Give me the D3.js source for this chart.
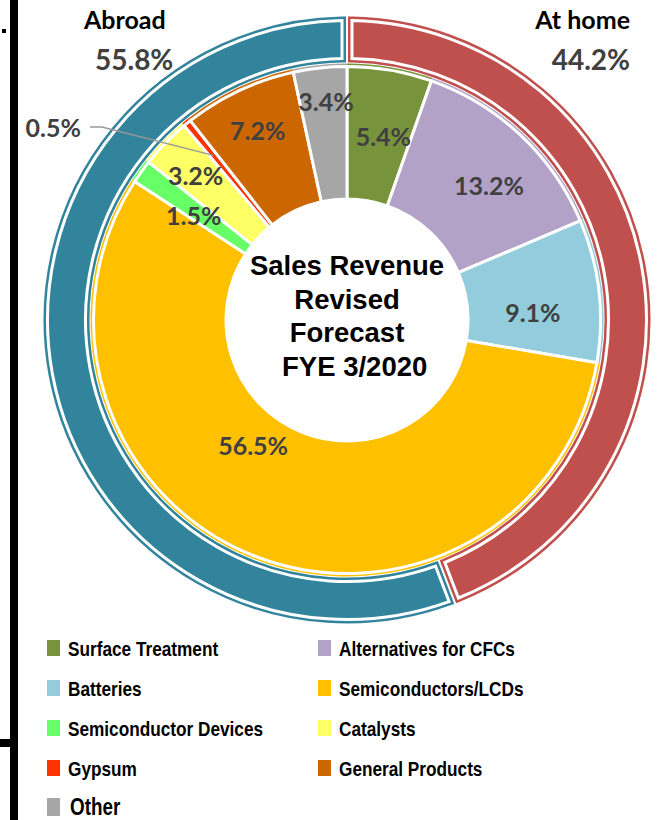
<!DOCTYPE html>
<html lang="en">
<head>
<meta charset="UTF-8">
<title>Sales Revenue Revised Forecast FYE 3/2020</title>
<style>
  body { margin: 0; background: #fff; }
  .pct { font-family: Lato, "Open Sans", sans-serif; font-weight: bold; fill: #404040; }
  .region { font-family: Lato, "Open Sans", sans-serif; font-weight: bold; fill: #000; font-size: 25px; }
  .title { font-family: "Liberation Sans", Arial, sans-serif; font-weight: bold; font-size: 27.5px; fill: #000; white-space: pre; }
  .legend text { font-family: "Liberation Sans Narrow", "Arial Narrow", "Liberation Sans", sans-serif; font-weight: bold; font-size: 21px; fill: #000; }
</style>
</head>
<body>
<svg id="chart" width="659" height="820"></svg>
<script src="https://d3js.org/d3.v7.min.js"></script>
<script>
var categories = ["Surface Treatment", "Alternatives for CFCs", "Batteries", "Semiconductors/LCDs",
                  "Semiconductor Devices", "Catalysts", "Gypsum", "General Products", "Other"];
var shares = [5.4, 13.2, 9.1, 56.5, 1.5, 3.2, 0.5, 7.2, 3.4];
var regions = ["At home", "Abroad"];
var regionShares = [44.2, 55.8];
var titleLines = ["Sales Revenue", "Revised", "Forecast", "  FYE 3/2020"];

var colors = d3.scaleOrdinal().domain(categories)
    .range(["#77933C", "#B3A2C7", "#93CDDD", "#FFC000", "#66FF66", "#FFFF66", "#FF3300", "#CC6600", "#A6A6A6"]);
var regionColors = d3.scaleOrdinal().domain(regions).range(["#C0504D", "#31849B"]);

// label placement: [angle offset (deg), radius]
var labelPlace = {
    "Surface Treatment": [1.5, 187], "Alternatives for CFCs": [3.5, 195], "Batteries": [4.5, 186],
    "Semiconductors/LCDs": [15.3, 157], "Semiconductor Devices": [-1.8, 185], "Catalysts": [-0.7, 209],
    "General Products": [-0.1, 209], "Other": [0.6, 219]
};

var width = 659, height = 820;
var cx = 347, cy = 320;
var fmt = function(v) { return d3.format(".1f")(v) + "%"; };

var svg = d3.select("#chart");

// frame bits on the left
svg.append("rect").attr("x", 10).attr("y", 0).attr("width", 8).attr("height", height).attr("fill", "#000");
svg.append("rect").attr("x", 0).attr("y", 739).attr("width", 18).attr("height", 8).attr("fill", "#000");
svg.append("rect").attr("x", 2).attr("y", 29).attr("width", 4).attr("height", 4).attr("fill", "#000");

var g = svg.append("g").attr("transform", "translate(" + cx + "," + cy + ")");

var pie = d3.pie().sort(null).value(function(d) { return d.value; });

// outer ring: home / abroad
var ringData = pie(regions.map(function(r, i) { return { name: r, value: regionShares[i] }; }));
var ringArc = d3.arc().innerRadius(261.5).outerRadius(299.5).padRadius(280).padAngle(10 / 280);

g.selectAll("path.ring-line").data(ringData).enter().append("path")
    .attr("class", "ring-line")
    .attr("d", ringArc)
    .attr("fill", function(d) { return regionColors(d.data.name); })
    .attr("stroke", function(d) { return regionColors(d.data.name); })
    .attr("stroke-width", 8)
    .attr("stroke-linejoin", "miter");
g.selectAll("path.ring").data(ringData).enter().append("path")
    .attr("class", "ring")
    .attr("d", ringArc)
    .attr("fill", function(d) { return regionColors(d.data.name); })
    .attr("stroke", "#fff")
    .attr("stroke-width", 3)
    .attr("stroke-linejoin", "miter");

// inner donut: product segments
var sliceData = pie(categories.map(function(c, i) { return { name: c, value: shares[i] }; }));
var sliceArc = d3.arc().innerRadius(121).outerRadius(253.5);
var rimArc = d3.arc().innerRadius(253).outerRadius(256.5);

g.selectAll("path.rim").data(sliceData).enter().append("path")
    .attr("class", "rim")
    .attr("d", rimArc)
    .attr("fill", function(d) { return colors(d.data.name); });
g.selectAll("path.slice").data(sliceData).enter().append("path")
    .attr("class", "slice")
    .attr("d", sliceArc)
    .attr("fill", function(d) { return colors(d.data.name); })
    .attr("stroke", "#fff")
    .attr("stroke-width", 3);

function polar(angle, r) {
    return [r * Math.sin(angle), -r * Math.cos(angle)];
}

// slice labels
g.selectAll("text.slice-label").data(sliceData.filter(function(d) { return labelPlace[d.data.name]; }))
    .enter().append("text")
    .attr("class", "pct")
    .attr("font-size", 25)
    .attr("text-anchor", "middle")
    .attr("dy", "0.36em")
    .attr("transform", function(d) {
        var p = labelPlace[d.data.name];
        var a = (d.startAngle + d.endAngle) / 2 + p[0] * Math.PI / 180;
        return "translate(" + polar(a, p[1]) + ")";
    })
    .text(function(d) { return fmt(d.data.value); });

// the tiny gypsum slice gets a leader line
var gyp = sliceData.filter(function(d) { return d.data.name === "Gypsum"; })[0];
var gypPt = polar((gyp.startAngle + gyp.endAngle) / 2, 212);
g.append("path")
    .attr("d", d3.line()([[-257, -193], [-245, -193], gypPt]))
    .attr("fill", "none")
    .attr("stroke", "#999")
    .attr("stroke-width", 1.5);
g.append("text")
    .attr("class", "pct")
    .attr("font-size", 25)
    .attr("text-anchor", "end")
    .attr("x", -266).attr("y", -192).attr("dy", "0.36em")
    .text(fmt(gyp.data.value));

// region labels
var regionPos = { "At home": { x: 283, anchor: "end" }, "Abroad": { x: -263, anchor: "start" } };
ringData.forEach(function(d) {
    var p = regionPos[d.data.name];
    g.append("text").attr("class", "region")
        .attr("x", p.x).attr("y", -291).attr("text-anchor", p.anchor)
        .text(d.data.name);
    g.append("text").attr("class", "pct").attr("font-size", 28)
        .attr("x", d.data.name === "Abroad" ? p.x + 11 : p.x).attr("y", -250).attr("text-anchor", p.anchor)
        .text(fmt(d.data.value));
});

// centre title
var title = g.append("text").attr("class", "title").attr("text-anchor", "middle");
titleLines.forEach(function(t, i) {
    title.append("tspan").attr("x", 0).attr("y", -45 + i * 33.5).text(t);
});

// legend (narrow bold face, squeezed horizontally)
var legend = svg.append("g").attr("class", "legend");
var rowY = d3.scaleLinear().domain([0, 1]).range([648, 688]);
categories.forEach(function(c, i) {
    var col = i % 2, row = Math.floor(i / 2);
    var last = i === categories.length - 1;
    var x = col === 0 ? 47 : 318;
    var y = rowY(row) - (last ? 1 : 0);
    var h = last ? 18 : 16;
    legend.append("rect")
        .attr("x", x).attr("y", y - h / 2).attr("width", 13).attr("height", h)
        .attr("fill", colors(c));
    legend.append("text")
        .attr("transform", "translate(" + (x + (last ? 23 : 21)) + "," + y + ") scale(0.82,1)")
        .attr("dy", "0.36em")
        .style("font-size", last ? "23px" : null)
        .text(c);
});
</script>
</body>
</html>
